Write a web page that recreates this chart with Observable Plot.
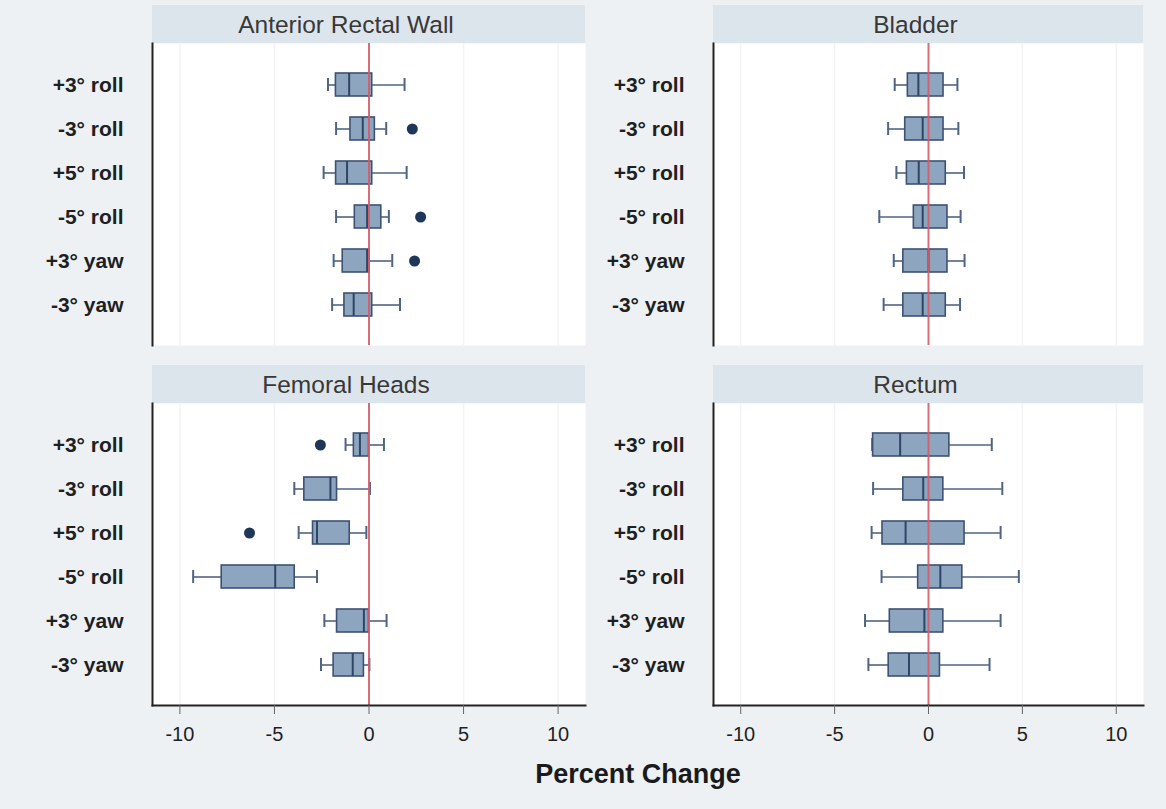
<!DOCTYPE html>
<html>
<head>
<meta charset="utf-8">
<script src="https://cdn.jsdelivr.net/npm/d3@7"></script>
<script src="https://cdn.jsdelivr.net/npm/@observablehq/plot@0.6"></script>
<style>
  html, body { margin: 0; padding: 0; background: #f6f8fa; }
  #fig { position: relative; width: 1166px; height: 809px; background: #edf1f4;
         font-family: "Liberation Sans", Arial, sans-serif; overflow: hidden; }
  .panel { position: absolute; }
  #xlabel { position: absolute; left: 0; width: 1276px; top: 760px; line-height: 28px;
            text-align: center; font-size: 27px; font-weight: bold; color: #1a1a1a; }
</style>
</head>
<body>
<div id="fig"></div>
<script>
// ---- data ----
const categories = ["+3° roll", "-3° roll", "+5° roll", "-5° roll", "+3° yaw", "-3° yaw"];
const panelTitles = ["Anterior Rectal Wall", "Bladder", "Femoral Heads", "Rectum"];
const xTicks = [-10, -5, 0, 5, 10];

// per panel (in panelTitles order), per category (in categories order)
const whiskerLow = [
  [-2.17, -1.74, -2.40, -1.74, -1.87, -1.95],
  [-1.80, -2.15, -1.71, -2.62, -1.85, -2.39],
  [-1.24, -3.95, -3.72, -9.30, -2.36, -2.54],
  [-3.00, -2.95, -3.03, -2.50, -3.38, -3.20]
];
const quartile1 = [
  [-1.75, -0.98, -1.74, -0.75, -1.39, -1.30],
  [-1.10, -1.24, -1.15, -0.78, -1.34, -1.34],
  [-0.80, -3.42, -2.96, -7.79, -1.69, -1.87],
  [-2.95, -1.34, -2.45, -0.55, -2.06, -2.12]
];
const medians = [
  [-1.05, -0.33, -1.16, -0.10, -0.10, -0.81],
  [-0.54, -0.31, -0.52, -0.31, 0.00, -0.31],
  [-0.48, -2.04, -2.75, -4.96, -0.27, -0.86],
  [-1.51, -0.28, -1.22, 0.63, -0.22, -1.04]
];
const quartile3 = [
  [0.17, 0.31, 0.17, 0.65, 0.03, 0.17],
  [0.80, 0.80, 0.92, 1.01, 1.01, 0.92],
  [0.00, -1.69, -1.02, -3.93, 0.00, -0.27],
  [1.11, 0.79, 1.92, 1.80, 0.79, 0.61]
];
const whiskerHigh = [
  [1.88, 0.91, 1.99, 1.05, 1.23, 1.64],
  [1.54, 1.59, 1.89, 1.71, 1.92, 1.68],
  [0.79, 0.05, -0.14, -2.75, 0.93, 0.02],
  [3.37, 3.93, 3.84, 4.81, 3.84, 3.25]
];
const outlierPanel    = ["Anterior Rectal Wall", "Anterior Rectal Wall", "Anterior Rectal Wall", "Femoral Heads", "Femoral Heads"];
const outlierCategory = ["-3° roll", "-5° roll", "+3° yaw", "+3° roll", "+5° roll"];
const outlierValue    = [2.29, 2.73, 2.41, -2.57, -6.32];

// ---- styling ----
const boxFill = "#8ea5c0";
const boxStroke = "#3b5273";
const whiskerColor = "#4f6482";
const refColor = "#d65b68";

const fig = document.getElementById("fig");

// strip (panel header) drawn in the top margin
const strip = () => (index, scales, values, dims) => {
  const ns = "http://www.w3.org/2000/svg";
  const r = document.createElementNS(ns, "rect");
  r.setAttribute("x", dims.marginLeft);
  r.setAttribute("y", 0);
  r.setAttribute("width", dims.width - dims.marginLeft - dims.marginRight);
  r.setAttribute("height", dims.marginTop);
  r.setAttribute("fill", "#dde5ec");
  return r;
};

function panel(p) {
  const col = p % 2, row = Math.floor(p / 2);
  const rows = categories.map((c, i) => ({
    cat: c, lo: whiskerLow[p][i], q1: quartile1[p][i], med: medians[p][i],
    q3: quartile3[p][i], hi: whiskerHigh[p][i]
  }));
  const outs = outlierValue.map((v, i) => ({panel: outlierPanel[i], cat: outlierCategory[i], v}))
    .filter(d => d.panel === panelTitles[p]);
  const left = col === 0 ? 0 : 590;
  const marginLeft = col === 0 ? 152 : 123;
  const width = col === 0 ? 590 : 558;
  const bottom = row === 1;
  const height = 38 + 302 + (bottom ? 62 : 2);
  const top = row === 0 ? 5 : 365;

  const marks = [
    strip(),
    Plot.frame({fill: "white", stroke: null}),
    Plot.ruleX(xTicks.filter(t => t !== 0), {stroke: "#f1f3f6", strokeWidth: 1.5}),
    Plot.text([panelTitles[p]], {frameAnchor: "top", lineAnchor: "middle", dy: -18, dx: col === 0 ? -23 : -13,
      fontSize: 24.5, fill: "#383838", letterSpacing: 0.8}),
    Plot.ruleY(rows, {y: "cat", x1: "lo", x2: "q1", stroke: whiskerColor, strokeWidth: 1.6}),
    Plot.ruleY(rows, {y: "cat", x1: "q3", x2: "hi", stroke: whiskerColor, strokeWidth: 1.6}),
    Plot.tickX(rows, {y: "cat", x: "lo", stroke: whiskerColor, strokeWidth: 2, insetTop: 5, insetBottom: 5}),
    Plot.tickX(rows, {y: "cat", x: "hi", stroke: whiskerColor, strokeWidth: 2, insetTop: 5, insetBottom: 5}),
    Plot.barX(rows, {y: "cat", x1: "q1", x2: "q3", fill: boxFill, stroke: boxStroke, strokeWidth: 1.6}),
    Plot.tickX(rows, {y: "cat", x: "med", stroke: "#2f4566", strokeWidth: 2}),
    Plot.dot(outs, {y: "cat", x: "v", r: 5.5, fill: "#1e3759", stroke: null}),
    Plot.ruleX([0], {stroke: refColor, strokeWidth: 2, strokeOpacity: 0.9}),
    Plot.axisY({tickSize: 0, tickPadding: 29, fontSize: 21, fontWeight: "bold", label: null}),
    Plot.frame({anchor: "left", stroke: "#222", strokeWidth: 2})
  ];
  if (bottom) {
    marks.push(Plot.frame({anchor: "bottom", stroke: "#222", strokeWidth: 2}));
    marks.push(Plot.axisX({ticks: xTicks, tickSize: 9, tickPadding: 12, fontSize: 20,
      tickFormat: d => String(d), label: null, stroke: "#666"}));
  }

  const svg = Plot.plot({
    width, height, marginLeft, marginRight: 5, marginTop: 38, marginBottom: bottom ? 62 : 2,
    style: {background: "transparent", color: "#1f1f1f", fontFamily: "'Liberation Sans', Arial, sans-serif", overflow: "visible"},
    x: {domain: [-11.45, 11.45], axis: null},
    y: {type: "band", domain: categories, paddingInner: 0.48, paddingOuter: 0.64, axis: null},
    marks
  });
  const wrap = document.createElement("div");
  wrap.className = "panel";
  wrap.style.left = left + "px";
  wrap.style.top = top + "px";
  wrap.appendChild(svg);
  fig.appendChild(wrap);
}

panelTitles.forEach((t, p) => panel(p));

const xl = document.createElement("div");
xl.id = "xlabel";
xl.textContent = "Percent Change";
fig.appendChild(xl);
</script>
</body>
</html>
